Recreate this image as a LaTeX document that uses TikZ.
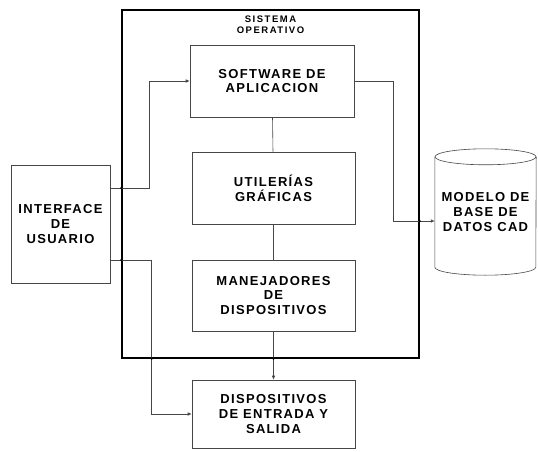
\documentclass[tikz,border=0pt]{standalone}
\usepackage{fontspec}
\setmainfont{Liberation Sans}
\newfontfamily\boxfont[LetterSpace=10]{Liberation Sans}
\newfontfamily\titlefont[LetterSpace=16]{Liberation Sans}
\usepackage{tikz}
\usetikzlibrary{arrows.meta, positioning, calc}
\definecolor{scangray}{RGB}{70, 70, 70}
\tikzset{
  unitbox/.style={draw=scangray, line width=0.6pt, minimum width=163pt, align=center,
                  font=\boxfont\bfseries\fontsize{13}{14.8}\selectfont},
  sysbox/.style={draw=black, line width=1.2pt, minimum width=297pt, minimum height=348pt},
  conn/.style={draw=scangray, line width=0.6pt},
  tip/.style={-{Latex[length=4pt, width=3.5pt]}},
  jdot/.style={circle, fill=black, inner sep=0pt, minimum size=2.6pt}
}

\begin{document}
\begin{tikzpicture}[x=1pt, y=1pt]
  \useasboundingbox (0,0) rectangle (538,451);

  % sistema operativo
  \node[sysbox] (so) at (270.5,267) {};
  \node[below=3pt of so.north, align=center,
        font=\titlefont\bfseries\fontsize{9.5}{10.5}\selectfont] (sotitle) {SISTEMA\\OPERATIVO};

  % bloques
  \node[unitbox, minimum width=164pt, minimum height=72pt] (sw) at (272,370) {SOFTWARE DE\\APLICACION};
  \node[unitbox, minimum height=72pt] (ut) at (273.5,263) {UTILERÍAS\\GRÁFICAS};
  \node[unitbox, minimum height=71pt] (mn) at (273.5,155.5) {MANEJADORES\\DE\\DISPOSITIVOS};
  \node[unitbox, minimum height=68pt] (io) at (273.5,37) {DISPOSITIVOS\\DE ENTRADA Y\\SALIDA};
  \node[unitbox, minimum width=99pt, minimum height=118pt, inner sep=1pt] (ui) at (60.5,227) {INTERFACE\\DE\\USUARIO};

  % base de datos
  \node[align=center, minimum width=101pt, minimum height=110pt,
        font=\boxfont\bfseries\fontsize{13}{14.8}\selectfont] (db) at (485.5,239) {MODELO DE\\BASE DE\\DATOS CAD};
  \draw[conn] (db.north west) -- (db.south west)
    arc[start angle=180, end angle=360, x radius=50.5pt, y radius=8pt] -- (db.north east);
  \draw[conn] (db.north) ellipse[x radius=50.5pt, y radius=8pt];

  % conexiones
  \coordinate (uiup) at ($(ui.east)+(0,36)$);
  \coordinate (uidn) at ($(ui.east)+(0,-36)$);
  \coordinate (lbend) at ([xshift=-40pt]io.west);
  \coordinate (dbin) at ([yshift=-9pt]db.west);
  \draw[conn, tip] (uiup) -| ([xshift=-40pt]sw.west) -- (sw.west);
  \draw[conn, tip] (uidn) -| (lbend) -- (io.west);
  \draw[conn, tip] (sw.east) -- ++(39,0) |- (dbin);
  \draw[conn] (sw) -- (ut);
  \draw[conn] (ut) -- (mn);
  \draw[conn, tip] (mn) -- (io);

  % cruces con el marco
  \node[jdot] at (so.west |- uiup) {};
  \node[jdot] at (so.west |- uidn) {};
  \node[jdot] at (so.east |- dbin) {};
  \node[jdot] at (lbend |- so.south) {};
  \node[jdot] at (io.north |- so.south) {};
\end{tikzpicture}
\end{document}
